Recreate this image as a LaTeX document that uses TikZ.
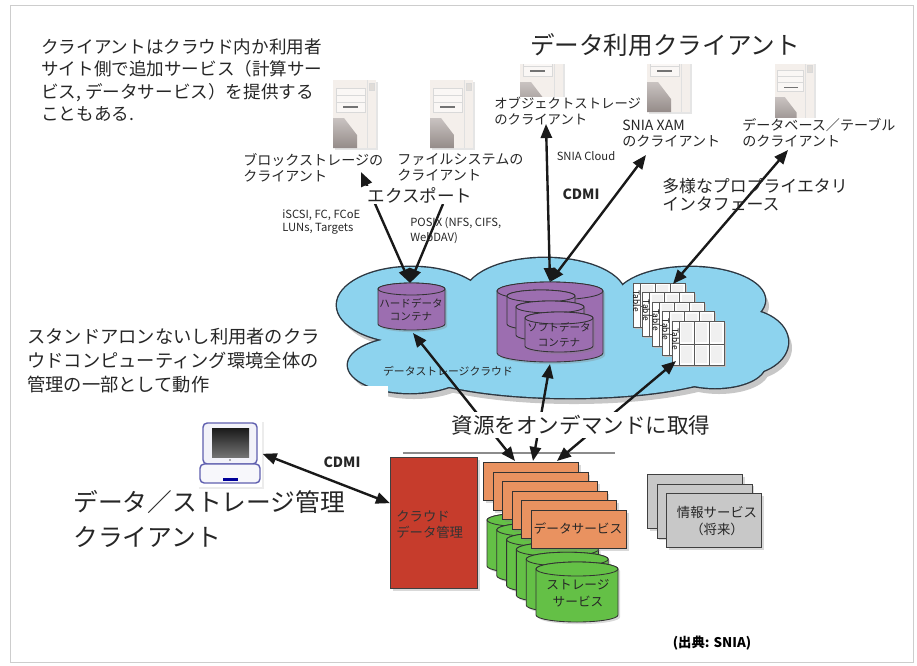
\documentclass[tikz,border=0pt]{standalone}
\usepackage{fontspec}
\setmainfont{Noto Sans CJK JP}
\usetikzlibrary{arrows.meta,shadows,calc}

\definecolor{cloudblue}{RGB}{141,211,238}
\definecolor{cloudline}{RGB}{45,55,65}
\definecolor{contpurple}{RGB}{156,110,176}
\definecolor{mgmtred}{RGB}{198,60,44}
\definecolor{svcorange}{RGB}{233,146,96}
\definecolor{stgreen}{RGB}{100,192,70}
\definecolor{infogray}{RGB}{200,200,200}
\definecolor{framegray}{RGB}{205,205,205}
\definecolor{servbody}{RGB}{244,239,235}
\definecolor{servgray}{RGB}{165,155,152}
\definecolor{laptopblue}{RGB}{95,95,175}

\newcommand\fsz[2]{\fontsize{#1}{#2}\selectfont}

% tower workstation icon; #1,#2 top-left corner, #3 scale
\newcommand\servericon[3]{%
  \begin{scope}[shift={(#1,#2)}, scale=#3]
    \fill[black!10] (1.5,1.5) rectangle (45,70);
    \fill[servbody] (0,0) rectangle (43,68);
    \draw[black!12, line width=.5pt] (34,0) -- (34,68);
    \draw[black!15, fill=servbody!92!black] (36,3) rectangle (41,10);
    \draw[black!15, line width=.5pt, fill=white!50!servbody]
      (3,8) rectangle (32,15) (3,15) rectangle (32,22) (3,22) rectangle (32,32);
    \draw[black!55, line width=.9pt] (10,27) -- (25,27);
    \shade[top color=servgray!60, bottom color=servgray!90!black]
      (0,38) -- (11,38) -- (24,55) -- (24,68) -- (0,68) -- cycle;
  \end{scope}}

% small table sheet; #1,#2 top-left corner
\newcommand\tablegrid[2]{%
  \begin{scope}[shift={({#1},{#2})}]
    \fill[black!25] (1.5,1.5) rectangle (53.5,45.5);
    \draw[black!65, fill=white, line width=.6pt] (0,0) rectangle (52,44);
    \fill[black!6] (9,2) rectangle (20,21) (24,2) rectangle (35,21) (39,2) rectangle (50,21)
                   (9,25) rectangle (20,42) (24,25) rectangle (35,42) (39,25) rectangle (50,42);
    \draw[black!65, line width=.6pt] (7,0) -- (7,44) (22,0) -- (22,44) (37,0) -- (37,44) (7,23) -- (52,23);
    \node[rotate=-90, inner sep=0pt, font=\fsz{6pt}{6pt}] at (3.6,18) {Table};
  \end{scope}}

% cylinder; #1,#2 top-left, #3 width, #4 height, #5 cap half-height, #6 colour
\newcommand\drum[6]{%
  \filldraw[fill=#6, draw=black!80, line width=.6pt,
            drop shadow={opacity=.3, shadow xshift=1.5pt, shadow yshift=-1.5pt}]
    (#1,{#2+#5}) -- (#1,{#2+#4-#5})
    arc[start angle=180, end angle=360, x radius={#3*0.0125cm}, y radius={#5*0.025cm}]
    -- ({#1+#3},{#2+#5})
    arc[start angle=0, end angle=180, x radius={#3*0.0125cm}, y radius={#5*0.025cm}] -- cycle;
  \filldraw[fill=#6, draw=black!80, line width=.6pt]
    ({#1+#3/2},{#2+#5}) ellipse[x radius={#3*0.0125cm}, y radius={#5*0.025cm}];}

\tikzset{
  link/.style={line width=1.7pt, draw=black!90, -{Triangle[length=10pt,width=8pt]}},
  biglink/.style={line width=1.7pt, draw=black!90,
    {Triangle[length=10pt,width=8pt]}-{Triangle[length=10pt,width=8pt]}},
  txt/.style={inner sep=0pt, align=left, text=black!85},
  softshadow/.style={drop shadow={opacity=0.3, shadow xshift=1.6pt, shadow yshift=-1.8pt}},
  svcbox/.style={draw=black!80, line width=.6pt, fill=svcorange, inner sep=0pt,
    minimum width=2.375cm, minimum height=0.95cm, anchor=north west, softshadow},
  infobox/.style={draw=black!75, line width=.6pt, fill=infogray, inner sep=0pt,
    minimum width=2.375cm, minimum height=1.35cm, anchor=north west, softshadow},
}

\begin{document}
\begin{tikzpicture}[x=0.025cm, y=-0.025cm]
\useasboundingbox (0,0) rectangle (917,666);
\draw[framegray, line width=.7pt] (10,5) rectangle (913,662);

% client workstations
\servericon{333}{80}{1}
\servericon{430}{80}{1}
\servericon{520}{44}{1}
\servericon{647}{44}{1}
\servericon{775}{63}{0.9}

\node[txt, font=\fsz{17.5pt}{20pt}, fill=white, minimum width=7.6cm, inner ysep=5pt, align=center]
  (title) at (665,45) {データ利用クライアント};

\node[txt, anchor=north west, font=\fsz{12.5pt}{16.1pt}] (topnote) at (41,38)
  {クライアントはクラウド内か利用者\\サイト側で追加サービス（計算サー\\ビス, データサービス）を提供する\\こともある.};

\node[txt, anchor=north west, font=\fsz{10pt}{11.5pt}] (blockcli) at (243,153)
  {ブロックストレージの\\クライアント};
\node[txt, anchor=north west, font=\fsz{10pt}{11.5pt}] (filecli) at (397,153)
  {ファイルシステムの\\クライアント};
\node[txt, anchor=north west, font=\fsz{9.5pt}{11.3pt}, fill=white] (objcli) at (494,97)
  {オブジェクトストレージ\\のクライアント};
\node[txt, anchor=north west, font=\fsz{10pt}{11pt}, fill=white] (xamcli) at (622,120)
  {SNIA XAM\\のクライアント};
\node[txt, anchor=north west, font=\fsz{10pt}{11.3pt}, fill=white] (dbcli) at (742,118)
  {データベース／テーブル\\のクライアント};

% storage cloud: shadow, outline, body
\foreach \cx/\cy/\rx/\ry in {412/305/1.875/0.95, 410/365/1.55/0.7, 545/295/2.0/0.925,
    690/300/1.875/0.825, 740/342/1.2/0.825, 570/360/4.25/0.95, 715/365/1.25/0.575}
  \fill[black!22] ({\cx+4},{\cy+6}) ellipse[x radius=\rx cm, y radius=\ry cm];
\foreach \cx/\cy/\rx/\ry in {412/305/1.875/0.95, 410/365/1.55/0.7, 545/295/2.0/0.925,
    690/300/1.875/0.825, 740/342/1.2/0.825, 570/360/4.25/0.95, 715/365/1.25/0.575}
  \draw[cloudline, line width=2pt] (\cx,\cy) ellipse[x radius=\rx cm, y radius=\ry cm];
\foreach \cx/\cy/\rx/\ry in {412/305/1.875/0.95, 410/365/1.55/0.7, 545/295/2.0/0.925,
    690/300/1.875/0.825, 740/342/1.2/0.825, 570/360/4.25/0.95, 715/365/1.25/0.575,
    560/330/4.0/1.0}
  \fill[cloudblue] (\cx,\cy) ellipse[x radius=\rx cm, y radius=\ry cm];
% the cloud's lower left corner is cut off square
\fill[white] (318,386) rectangle (388,404);

% containers in the cloud
\drum{378}{283}{67}{47}{6}{contpurple}
\drum{497}{282}{106}{80}{9}{contpurple}
\drum{507}{290}{68}{40}{6}{contpurple}
\drum{516}{301}{68}{40}{6}{contpurple}
\drum{525}{312}{68}{40}{6}{contpurple}
\foreach \i in {0,...,4} {\tablegrid{633+9.75*\i}{283+9.5*\i}}

\node[txt, align=center, font=\fsz{7.5pt}{9.5pt}] (hard) at (411,310) {ハードデータ\\コンテナ};
\node[txt, align=center, font=\fsz{7.5pt}{10.5pt}] (soft) at (559,335) {ソフトデータ\\コンテナ};
\node[txt, font=\fsz{7.7pt}{9pt}] (cloudname) at (448,371) {データストレージクラウド};

% end points on the containers and clients
\coordinate (hardtop) at (410,283);
\coordinate (hardbot) at (413,333);
\coordinate (softtop) at (550,282);
\coordinate (softbot) at (550,364);
\coordinate (tabtop) at (673,284);
\coordinate (tabbot) at (676,361);
\coordinate (blocktip) at (361,172);
\coordinate (objtip) at (546,124);
\coordinate (xamtip) at (646,155);
\coordinate (dbtip) at (788,150);
\coordinate (exptail) at (443,204);

\draw[biglink] (hardtop) -- (blocktip);
\draw[link] (exptail) -- (hardtop);
\draw[biglink] (softtop) -- (objtip);
\draw[biglink] (softtop) -- (xamtip);
\draw[biglink] (tabtop) -- (dbtip);

\node[txt, font=\fsz{12.5pt}{14pt}, fill=white, inner sep=1pt] (export) at (420,195) {エクスポート};
\node[txt, anchor=north west, font=\fsz{8pt}{9.5pt}] (blockproto) at (282,209) {iSCSI, FC, FCoE\\LUNs, Targets};
\node[txt, anchor=north west, font=\fsz{8pt}{10.5pt}] (fileproto) at (410,217) {POSIX (NFS, CIFS,\\WebDAV)};
\node[txt, font=\fsz{8pt}{9pt}] (sniacloud) at (586,156) {SNIA Cloud};
\node[txt, font=\bfseries\fsz{10pt}{12pt}] (cdmitop) at (581,194) {CDMI};
\node[txt, anchor=north west, font=\fsz{12pt}{13pt}] (proprietary) at (662,178)
  {多様なプロプライエタリ\\インタフェース};

\node[txt, anchor=north west, font=\fsz{13pt}{17pt}] (mgmtnote) at (27,328)
  {スタンドアロンないし利用者のクラ\\ウドコンピューティング環境全体の\\管理の一部として動作};

% cloud services
\draw[black!45, line width=1pt] (403,453) -- (615,453);
\foreach \i in {0,...,5} {\drum{487+9.8*\i}{513+9.8*\i}{82}{60}{7}{stgreen}}
\foreach \i in {0,...,5} {\node[svcbox] (ds\i) at ({483+9.6*\i},{462+9.6*\i}) {};}
\foreach \i in {0,...,2} {\node[infobox] (info\i) at ({647+9.5*\i},{474+9.5*\i}) {};}
\node[txt, font=\fsz{9pt}{11pt}] (dslabel) at (578,528) {データサービス};
\node[txt, align=center, font=\fsz{9pt}{12pt}] (stlabel) at (578,593) {ストレージ\\サービス};
\node[txt, align=center, font=\fsz{9.5pt}{12pt}] (infolabel) at (717,521) {情報サービス\\（将来）};

\node[draw=black!75, fill=mgmtred, line width=.6pt, minimum width=2.175cm, minimum height=3.275cm,
      anchor=north west, inner sep=0pt, softshadow] (mgmt) at (390,457) {};
\node[txt, anchor=north west, font=\fsz{9.5pt}{12pt}, text=black!80] (mgmtlabel) at (396,510)
  {クラウド\\データ管理};

% management laptop
\node[fill=white, minimum width=1.625cm, minimum height=1.675cm, inner sep=0pt, anchor=north west,
      drop shadow={opacity=.15, shadow xshift=1pt, shadow yshift=-1pt}] (laptop) at (197,420) {};
\begin{scope}[shift={(197,420)}]
  \draw[laptopblue, line width=1pt, fill=white!92!laptopblue, rounded corners=3pt] (6,3) rectangle (60,44);
  \shade[top color=black!90, bottom color=black!55] (15,8) rectangle (52,37);
  \fill[black!60] (33,40) circle (0.7pt);
  \draw[laptopblue, line width=1pt, fill=white!95!laptopblue, rounded corners=3pt] (3,44) rectangle (63,63);
  \fill[blue!60!black] (26,57.5) rectangle (41,60.5);
\end{scope}

\coordinate (ds0a) at (515,461);
\coordinate (ds0b) at (533,461);
\coordinate (ds0c) at (557,461);
\draw[biglink] (ds0a) -- (hardbot);
\draw[biglink] (ds0b) -- (softbot);
\draw[biglink] (ds0c) -- (tabbot);
\draw[biglink] (laptop.east) -- ($(mgmt.north west)!0.35!(mgmt.south west)$);

\node[txt, font=\fsz{15.3pt}{17pt}, fill=white, inner sep=2pt] (ondemand) at (581,425)
  {資源をオンデマンドに取得};
\node[txt, font=\bfseries\fsz{10pt}{12pt}] (cdmibot) at (342,462) {CDMI};
\node[txt, anchor=north west, font=\fsz{17.6pt}{25pt}] (mgmtclient) at (73,490)
  {データ／ストレージ管理\\クライアント};
\node[txt, font=\bfseries\fsz{9.5pt}{11pt}, text=black] (source) at (712,643) {(出典: SNIA)};
\end{tikzpicture}
\end{document}
